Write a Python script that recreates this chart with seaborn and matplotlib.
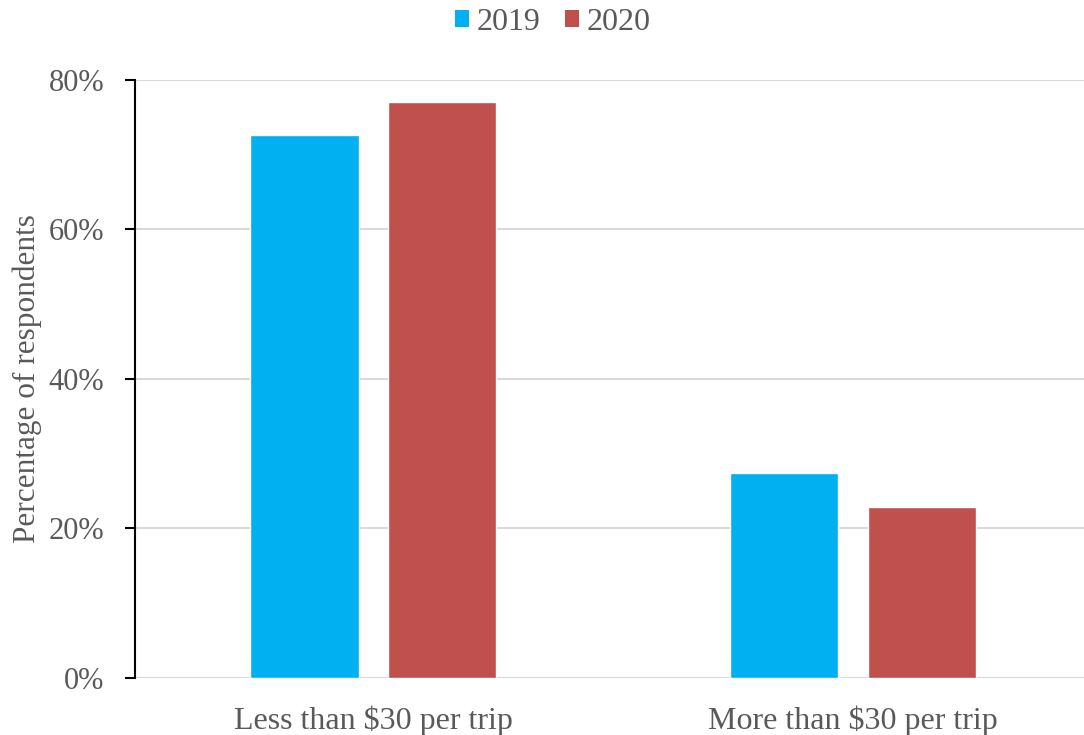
import matplotlib
matplotlib.use("Agg")
import matplotlib.pyplot as plt
import seaborn as sns
import pandas as pd
from matplotlib.ticker import FuncFormatter
from matplotlib.patches import Patch

categories = ["Less than $30 per trip", "More than $30 per trip"]
years = ["2019", "2020"]
values_2019 = [72.6, 27.4]
values_2020 = [77.1, 22.9]
colors = {"2019": "#00B0F0", "2020": "#C0504D"}

df = pd.DataFrame({
    "category": categories * 2,
    "year": [years[0]] * len(categories) + [years[1]] * len(categories),
    "value": values_2019 + values_2020,
})

sns.set_theme(style="white")
plt.rcParams["font.family"] = ["Liberation Serif", "DejaVu Serif"]
text_color = "#595959"

fig = plt.figure(figsize=(10.84, 7.35), dpi=100)
ax = fig.add_axes([0.1245, 0.0776, 0.8755, 0.8136])

sns.barplot(data=df, x="category", y="value", hue="year", palette=colors,
            width=0.574, gap=0.213, saturation=1, ax=ax, legend=False)

ax.set_ylim(0, 80)
ax.set_xlim(-0.497, 1.482)
ax.set_yticks([0, 20, 40, 60, 80])
ax.yaxis.set_major_formatter(FuncFormatter(lambda v, p: f"{v:.0f}%"))
ax.yaxis.grid(True, color="#D9D9D9", linewidth=1.5)
ax.set_axisbelow(True)

for s in ["top", "right", "bottom"]:
    ax.spines[s].set_visible(False)
ax.spines["left"].set_color("black")
ax.spines["left"].set_linewidth(1.5)
ax.axhline(0, color="#D9D9D9", linewidth=1.5, zorder=0.5)

ax.tick_params(axis="y", which="major", left=True, direction="out", length=7,
               width=1.5, color="black", labelsize=22, labelcolor=text_color, pad=15)
ax.tick_params(axis="x", bottom=False, labelsize=23, labelcolor=text_color, pad=14)

ax.set_xlabel("")
ax.set_ylabel("Percentage of respondents", fontsize=22.5, color=text_color, labelpad=5)

handles = [Patch(facecolor=colors[y], edgecolor="none", label=y) for y in years]
fig.legend(handles=handles, loc="center", bbox_to_anchor=(0.51, 0.970), ncol=2,
           frameon=False, fontsize=23, labelcolor=text_color,
           handlelength=0.45, handleheight=0.45, handletextpad=0.25, columnspacing=0.75)

fig.savefig("out.png", dpi=100)
